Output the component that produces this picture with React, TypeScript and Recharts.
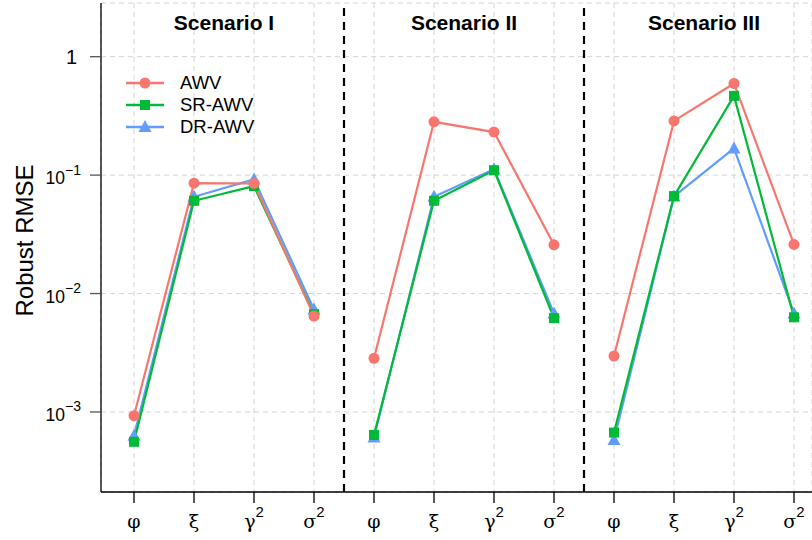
import React from 'react';
import { CartesianGrid, ComposedChart, Line, ReferenceArea, ReferenceLine, XAxis, YAxis } from 'recharts';

const scenarios = ['Scenario I', 'Scenario II', 'Scenario III'];
const paramBase = ['φ', 'ξ', 'γ', 'σ'];
const paramExp = ['', '', '2', '2'];
const yTicks = [1e-3, 1e-2, 1e-1, 1];

// robust RMSE per scenario, in the order phi, xi, gamma^2, sigma^2
const awv = [
  [9.3e-4, 0.0855, 0.085, 6.45e-3],
  [2.84e-3, 0.282, 0.231, 0.0258],
  [2.97e-3, 0.287, 0.594, 0.026],
];
const srAwv = [
  [5.6e-4, 0.0607, 0.0807, 6.7e-3],
  [6.4e-4, 0.0607, 0.11, 6.2e-3],
  [6.7e-4, 0.0665, 0.467, 6.3e-3],
];
const drAwv = [
  [6.3e-4, 0.0656, 0.092, 7.35e-3],
  [6.1e-4, 0.0656, 0.112, 6.8e-3],
  [5.8e-4, 0.066, 0.168, 6.8e-3],
];

const series = [
  { key: 'awv', name: 'AWV', color: '#F8766D', shape: 'circle' },
  { key: 'sr', name: 'SR-AWV', color: '#00BA38', shape: 'square' },
  { key: 'dr', name: 'DR-AWV', color: '#619CFF', shape: 'triangle' },
];

type Row = { x: number; awv: number | null; sr: number | null; dr: number | null };
const rows: Row[] = [];
scenarios.forEach((_, s) => {
  paramBase.forEach((__, p) => {
    rows.push({ x: s * 4 + p + 1, awv: awv[s][p], sr: srAwv[s][p], dr: drAwv[s][p] });
  });
  if (s < scenarios.length - 1) rows.push({ x: s * 4 + 4.5, awv: null, sr: null, dr: null });
});

const xTicks = rows.filter((r) => r.awv !== null).map((r) => r.x);
const SANS = '"Liberation Sans", Arial, sans-serif';

function Marker({ shape, color, cx, cy }: { shape: string; color: string; cx: number; cy: number }) {
  if (shape === 'circle') return <circle cx={cx} cy={cy} r={5.5} fill={color} />;
  if (shape === 'square') return <rect x={cx - 5} y={cy - 5} width={10} height={10} fill={color} />;
  return <polygon points={`${cx},${cy - 7} ${cx - 6.5},${cy + 5} ${cx + 6.5},${cy + 5}`} fill={color} />;
}

const makeDot = (shape: string, color: string) => (props: any) => {
  const { cx, cy, value, index } = props;
  if (value == null || cx == null || cy == null) return <g key={`d-${index}`} />;
  return (
    <g key={`d-${index}`}>
      <Marker shape={shape} color={color} cx={cx} cy={cy} />
    </g>
  );
};

function XTick({ x, y, payload }: any) {
  const i = (Math.round(payload.value) - 1) % 4;
  return (
    <text x={x} y={y + 23} textAnchor="middle" fill="#000">
      <tspan fontFamily='"DejaVu Serif", "Liberation Serif", serif' fontSize={19}>
        {paramBase[i]}
      </tspan>
      {paramExp[i] && (
        <tspan fontFamily={SANS} fontSize={15} dy={-11}>
          {paramExp[i]}
        </tspan>
      )}
    </text>
  );
}

function YTick({ x, y, payload }: any) {
  const e = Math.round(Math.log10(payload.value));
  if (e === 0) {
    return (
      <text x={77} y={y + 7.5} textAnchor="end" fontFamily={SANS} fontSize={20} fill="#000">
        1
      </text>
    );
  }
  return (
    <text x={81} y={y + 9} textAnchor="end" fontFamily={SANS} fill="#000">
      <tspan fontSize={17.5}>10</tspan>
      <tspan fontSize={14} dy={-9.5}>
        {'\u2212' + -e}
      </tspan>
    </text>
  );
}

function Legend() {
  return (
    <div style={{ position: 'absolute', left: 124, top: 72, fontFamily: SANS, fontSize: 18.5 }}>
      {series.map((s) => (
        <div key={s.key} style={{ display: 'flex', alignItems: 'center', height: 22 }}>
          <svg width={42} height={22}>
            <line x1={2} y1={11} x2={40} y2={11} stroke={s.color} strokeWidth={2.5} />
            <Marker shape={s.shape} color={s.color} cx={21} cy={11} />
          </svg>
          <span style={{ marginLeft: 14 }}>{s.name}</span>
        </div>
      ))}
    </div>
  );
}

export default function App() {
  return (
    <div style={{ position: 'absolute', left: 0, top: 0, width: 812, height: 540, background: '#fff' }}>
      <ComposedChart width={812} height={540} data={rows} margin={{ top: 3, right: 0, bottom: 0, left: 0 }}>
        <CartesianGrid stroke="#d4d4d4" strokeDasharray="5 4" />
        <XAxis
          dataKey="x"
          type="number"
          domain={[0.45, 12.3]}
          ticks={xTicks}
          interval={0}
          height={48}
          allowDataOverflow
          tick={<XTick />}
          tickSize={11}
          axisLine={{ stroke: '#000', strokeWidth: 1.3 }}
          tickLine={{ stroke: '#000', strokeWidth: 1.3 }}
        />
        <XAxis
          xAxisId="top"
          dataKey="x"
          type="number"
          orientation="top"
          domain={[0.45, 12.3]}
          height={0}
          tick={false}
          tickLine={false}
          axisLine={{ stroke: '#444', strokeWidth: 1.3 }}
        />
        <YAxis
          scale="log"
          type="number"
          domain={[2.11e-4, 2.84]}
          ticks={yTicks}
          allowDataOverflow
          width={101}
          tickSize={11}
          tick={<YTick />}
          axisLine={{ stroke: '#000', strokeWidth: 1.3 }}
          tickLine={{ stroke: '#555', strokeWidth: 1.3 }}
          label={(props: any) => {
            const vb = props.viewBox;
            const cy = vb.y + vb.height / 2 - 7;
            return (
              <text
                x={33}
                y={cy}
                transform={`rotate(-90, 33, ${cy})`}
                textAnchor="middle"
                fontFamily={SANS}
                fontSize={24}
                fill="#000"
              >
                Robust RMSE
              </text>
            );
          }}
        />
        {scenarios.map((name, s) => (
          <ReferenceArea
            key={name}
            x1={s * 4 + 0.5}
            x2={s * 4 + 4.5}
            ifOverflow="visible"
            fill="none"
            fillOpacity={0}
            stroke="none"
            label={(props: any) => {
              const vb = props.viewBox;
              return (
                <text
                  x={vb.x + vb.width / 2}
                  y={30}
                  textAnchor="middle"
                  fontFamily={SANS}
                  fontWeight="bold"
                  fontSize={21}
                  fill="#000"
                >
                  {name}
                </text>
              );
            }}
          />
        ))}
        {[4.5, 8.5].map((x) => (
          <ReferenceLine key={x} x={x} stroke="#000" strokeWidth={2.2} strokeDasharray="8 6" />
        ))}
        {[series[2], series[1], series[0]].map((s) => (
          <Line
            key={s.key}
            dataKey={s.key}
            name={s.name}
            stroke={s.color}
            strokeWidth={2.2}
            dot={makeDot(s.shape, s.color)}
            activeDot={false}
            connectNulls={false}
            isAnimationActive={false}
          />
        ))}
      </ComposedChart>
      <Legend />
    </div>
  );
}
